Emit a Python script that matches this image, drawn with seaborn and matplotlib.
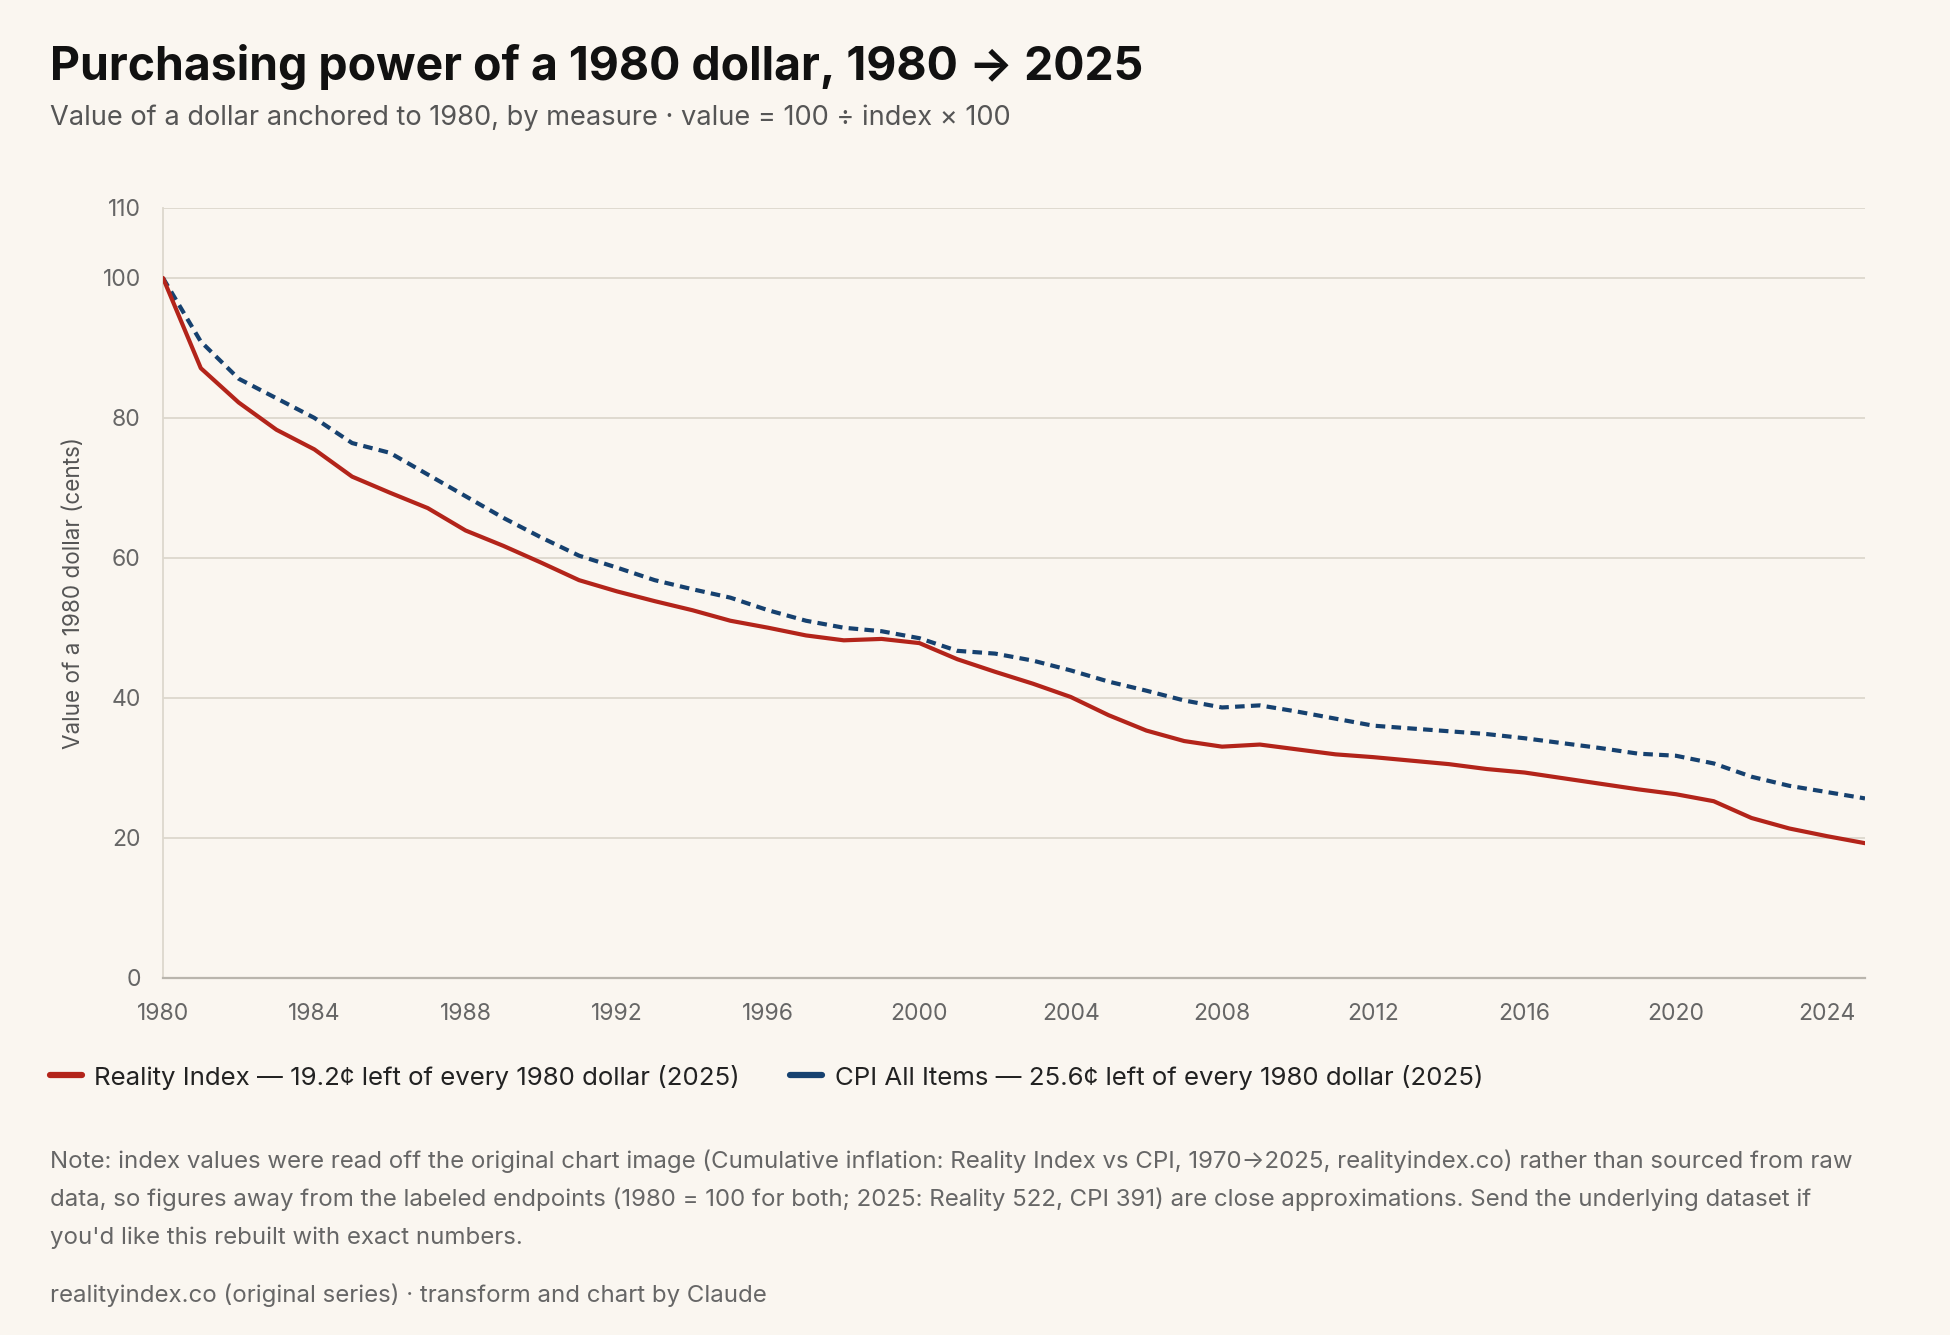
import numpy as np
import pandas as pd
import matplotlib
matplotlib.use("Agg")
import matplotlib.pyplot as plt
from matplotlib.lines import Line2D
import seaborn as sns

years = list(range(1980, 2026))
reality = [100.0, 87.1, 82.2, 78.3, 75.5, 71.6, 69.3, 67.1, 63.9, 61.7,
           59.3, 56.8, 55.2, 53.8, 52.5, 51.0, 50.0, 48.9, 48.2, 48.4,
           47.8, 45.5, 43.7, 42.0, 40.1, 37.5, 35.3, 33.8, 33.0, 33.3,
           32.6, 31.9, 31.5, 31.0, 30.5, 29.8, 29.3, 28.5, 27.7, 26.9,
           26.2, 25.2, 22.8, 21.3, 20.2, 19.2]
cpi = [100.0, 90.9, 85.6, 82.8, 80.0, 76.4, 75.0, 71.9, 68.8, 65.7,
       62.9, 60.3, 58.6, 56.8, 55.5, 54.3, 52.5, 51.0, 50.0, 49.5,
       48.5, 46.7, 46.3, 45.3, 43.9, 42.3, 41.0, 39.6, 38.6, 38.9,
       38.0, 37.0, 36.0, 35.6, 35.2, 34.8, 34.2, 33.5, 32.8, 32.0,
       31.7, 30.6, 28.7, 27.4, 26.5, 25.6]
series_names = ["Reality Index", "CPI All Items"]
legend_labels = ["Reality Index \u2014 19.2\u00a2 left of every 1980 dollar (2025)",
                 "CPI All Items \u2014 25.6\u00a2 left of every 1980 dollar (2025)"]
x_ticks = list(range(1980, 2025, 4))
y_ticks = [0, 20, 40, 60, 80, 100, 110]

title = "Purchasing power of a 1980 dollar, 1980 \u2192 2025"
subtitle = "Value of a dollar anchored to 1980, by measure \u00b7 value = 100 \u00f7 index \u00d7 100"
ylabel = "Value of a 1980 dollar (cents)"
note_lines = [
    "Note: index values were read off the original chart image (Cumulative inflation: Reality Index vs CPI, 1970\u21922025, realityindex.co) rather than sourced from raw",
    "data, so figures away from the labeled endpoints (1980 = 100 for both; 2025: Reality 522, CPI 391) are close approximations. Send the underlying dataset if",
    "you'd like this rebuilt with exact numbers.",
]
source = "realityindex.co (original series) \u00b7 transform and chart by Claude"

BG = "#faf6f0"
RED = "#b3241a"
BLUE = "#16416f"
GRID = "#ddd8cd"

sns.set_theme(style="white")
plt.rcParams["font.family"] = ["Inter", "DejaVu Sans"]

df = pd.DataFrame({
    "year": years * 2,
    "value": reality + cpi,
    "series": [series_names[0]] * len(years) + [series_names[1]] * len(years),
})

fig = plt.figure(figsize=(19.5, 13.35), dpi=100, facecolor=BG)
ax = fig.add_axes([163 / 1950, 1 - 977.5 / 1335, (1865 - 163) / 1950, (977.5 - 208) / 1335])
ax.set_facecolor(BG)

sns.lineplot(data=df[df.series == series_names[1]], x="year", y="value", ax=ax,
             color=BLUE, lw=3.0, linestyle=(0, (2.3, 1.5)), legend=False, zorder=3)
sns.lineplot(data=df[df.series == series_names[0]], x="year", y="value", ax=ax,
             color=RED, lw=3.0, legend=False, zorder=4)

ax.set_xlim(1980, 2025)
ax.set_ylim(0, 110)
ax.set_yticks(y_ticks)
ax.set_xticks(x_ticks)
ax.set_xticklabels([str(t) for t in x_ticks])
ax.grid(axis="y", color=GRID, lw=1.3)
ax.grid(axis="x", visible=False)
for s in ["top", "right"]:
    ax.spines[s].set_visible(False)
ax.spines["left"].set_color(GRID)
ax.spines["left"].set_linewidth(1.3)
ax.spines["bottom"].set_color("#b9b5ad")
ax.spines["bottom"].set_linewidth(1.6)
ax.tick_params(axis="y", length=11, width=1.3, color=GRID, pad=5, labelsize=16.5, labelcolor="#666666")
ax.tick_params(axis="x", length=0, pad=18, labelsize=16.5, labelcolor="#666666")
ax.set_xlabel("")
ax.set_ylabel(ylabel, fontsize=16.2, color="#555555")
ax.yaxis.set_label_coords(-0.046, 0.5)

fig.text(50 / 1950, 1 - 80 / 1335, title, fontsize=33.4, fontweight="bold", color="#111111", va="baseline")
fig.text(50 / 1950, 1 - 125 / 1335, subtitle, fontsize=19.6, color="#555555", va="baseline")

handles = [Line2D([0], [0], color=RED, lw=4.5), Line2D([0], [0], color=BLUE, lw=4.5)]
fig.legend(handles, legend_labels, loc="center left", bbox_to_anchor=(50 / 1950, 1 - 1077 / 1335),
           ncol=2, frameon=False, fontsize=18.6, handlelength=1.24, handletextpad=0.48,
           columnspacing=1.95, labelcolor="#222222", borderpad=0, borderaxespad=0)

for i, line in enumerate(note_lines):
    fig.text(50 / 1950, 1 - (1161 + 38.5 * i) / 1335, line, fontsize=17.3, color="#666666", va="center")
fig.text(50 / 1950, 1 - 1295 / 1335, source, fontsize=17.3, color="#666666", va="center")

fig.savefig("out.png", dpi=100, facecolor=BG)
